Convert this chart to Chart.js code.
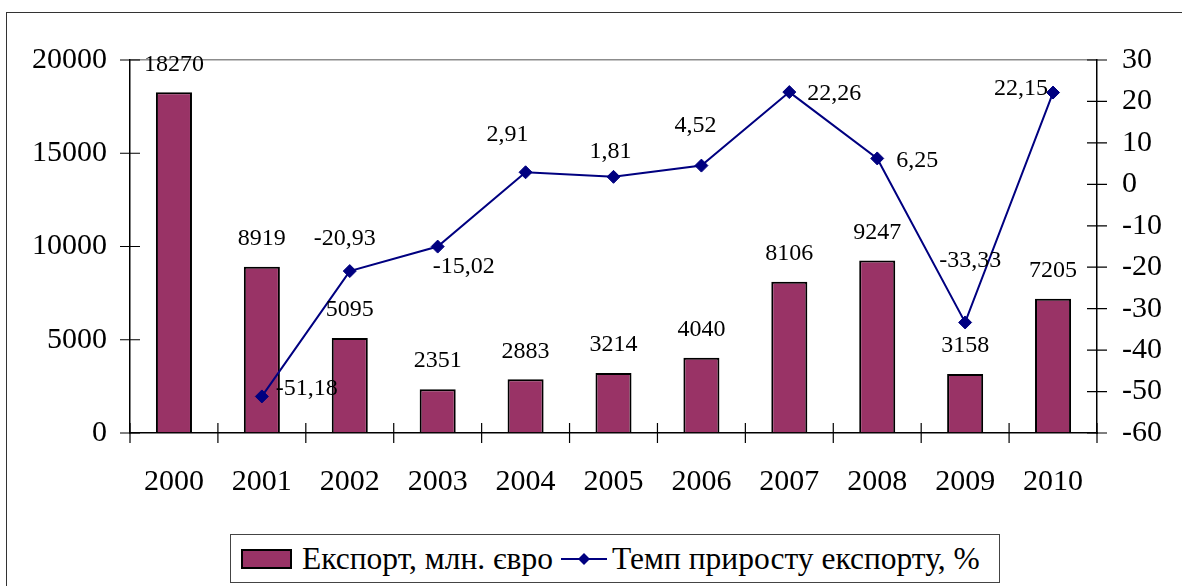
<!DOCTYPE html>
<html>
<head>
<meta charset="utf-8">
<script src="https://cdn.jsdelivr.net/npm/chart.js@4.4.1/dist/chart.umd.min.js"></script>
<style>
  html, body { margin: 0; padding: 0; background: #fff; width: 1182px; height: 586px; overflow: hidden; font-family: 'Liberation Serif', serif; }
  #frame { position: absolute; left: 6px; top: 12px; width: 1300px; height: 700px; border: 1.5px solid #333; box-sizing: border-box; }
  #wrap { position: absolute; left: 0; top: 0; width: 1182px; height: 586px; }
  #legend { position: absolute; left: 230px; top: 534px; width: 770px; height: 49px; border: 1px solid #444; box-sizing: border-box;
            display: flex; align-items: center; font-family: 'Liberation Serif', serif; font-size: 31.5px; color: #000; background: #fff; }
  .sw { width: 47px; height: 16px; background: #993366; border: 2px solid #000; margin-left: 10px; margin-right: 10px; }
  .ln { margin-left: 8px; margin-right: 5px; display: block; }
</style>
</head>
<body>
<div id="frame"></div>
<div id="wrap"><canvas id="c" width="1182" height="586"></canvas></div>
<div id="legend">
  <div class="sw"></div><span id="l1"></span>
  <svg class="ln" width="46" height="14" viewBox="0 0 46 14"><line x1="0" y1="7" x2="46" y2="7" stroke="#000080" stroke-width="2"/><polygon points="23,1 29,7 23,13 17,7" fill="#000080"/></svg>
  <span id="l2"></span>
</div>
<script>
const categories = ['2000','2001','2002','2003','2004','2005','2006','2007','2008','2009','2010'];
const exportValues = [18270, 8919, 5095, 2351, 2883, 3214, 4040, 8106, 9247, 3158, 7205];
const growthValues = [null, -51.18, -20.93, -15.02, 2.91, 1.81, 4.52, 22.26, 6.25, -33.33, 22.15];
const seriesNames = ['Експорт, млн. євро', 'Темп приросту експорту, %'];
const leftTicks = { min: 0, max: 20000, step: 5000 };
const rightTicks = { min: -60, max: 30, step: 10 };

// label placement for line points (style only): [dx, dy, align]
const lineLabelPlace = [
  null, [14, -8, 'left'], [-5, -32, 'center'], [-5, 20, 'left'], [-18, -38, 'center'], [-3, -25, 'center'],
  [-6, -40, 'center'], [18, 2, 'left'], [19, 2, 'left'], [5, -62, 'center'], [-5, -4, 'right']
];

document.getElementById('l1').textContent = seriesNames[0];
document.getElementById('l2').textContent = seriesNames[1];

const FONT = "'Liberation Serif', serif";

const labelsPlugin = {
  id: 'labels',
  afterDatasetsDraw(chart) {
    const ctx = chart.ctx;
    ctx.save();
    ctx.fillStyle = '#000';
    ctx.font = '24px ' + FONT;
    ctx.textBaseline = 'middle';
    const barMeta = chart.getDatasetMeta(0);
    barMeta.data.forEach((el, i) => {
      ctx.textAlign = 'center';
      ctx.fillText(String(exportValues[i]), el.x, el.y - 28);
    });
    const lineMeta = chart.getDatasetMeta(1);
    lineMeta.data.forEach((el, i) => {
      const v = growthValues[i];
      if (v === null || !lineLabelPlace[i]) return;
      const p = lineLabelPlace[i];
      ctx.textAlign = p[2];
      ctx.fillText(v.toFixed(2).replace('.', ','), el.x + p[0], el.y + p[1]);
    });
    ctx.restore();
  }
};

const ticksPlugin = {
  id: 'crossTicks',
  afterDraw(chart) {
    const ctx = chart.ctx;
    const a = chart.chartArea;
    const xs = chart.scales.x, yl = chart.scales.y, yr = chart.scales.y1;
    ctx.save();
    ctx.strokeStyle = '#000';
    ctx.lineWidth = 1.2;
    ctx.beginPath();
    const n = categories.length;
    const w = (xs.right - xs.left) / n;
    for (let k = 0; k <= n; k++) {
      const x = xs.left + k * w;
      ctx.moveTo(x, a.bottom - 10); ctx.lineTo(x, a.bottom + 10);
    }
    yl.ticks.forEach(t => {
      const y = yl.getPixelForValue(t.value);
      ctx.moveTo(a.left - 10, y); ctx.lineTo(a.left + 10, y);
    });
    yr.ticks.forEach(t => {
      const y = yr.getPixelForValue(t.value);
      ctx.moveTo(a.right - 10, y); ctx.lineTo(a.right + 10, y);
    });
    ctx.stroke();
    ctx.restore();
  }
};

function draw() {
  new Chart(document.getElementById('c'), {
    data: {
      labels: categories,
      datasets: [
        { type: 'bar', label: seriesNames[0], data: exportValues, yAxisID: 'y',
          backgroundColor: '#993366', borderColor: '#000', borderWidth: 2,
          barPercentage: 0.41, categoryPercentage: 1, order: 2 },
        { type: 'line', label: seriesNames[1], data: growthValues, yAxisID: 'y1',
          borderColor: '#000080', backgroundColor: '#000080', borderWidth: 2,
          pointStyle: 'rectRot', pointRadius: 6.5, pointBorderWidth: 1, pointBorderColor: '#000080',
          tension: 0, spanGaps: false, order: 1 }
      ]
    },
    options: {
      responsive: false,
      animation: false,
      devicePixelRatio: 1,
      font: { family: FONT },
      layout: { padding: { top: 60, left: 0, right: 0, bottom: 0 } },
      plugins: { legend: { display: false }, tooltip: { enabled: false } },
      scales: {
        x: {
          offset: true,
          grid: { display: false, drawTicks: false },
          border: { display: true, color: '#000', width: 1.5 },
          ticks: { color: '#000', font: { family: FONT, size: 30 }, padding: 31, maxRotation: 0, autoSkip: false },
          afterFit(s) { s.height = 153; }
        },
        y: {
          position: 'left',
          min: leftTicks.min, max: leftTicks.max,
          ticks: { stepSize: leftTicks.step, color: '#000', font: { family: FONT, size: 30 }, padding: 23,
                   callback: v => String(v) },
          grid: { drawTicks: false, lineWidth: 1.5, color: c => (c.tick && c.tick.value === leftTicks.max) ? '#8c8c8c' : 'rgba(0,0,0,0)' },
          border: { display: true, color: '#000', width: 1.5 },
          afterFit(s) { s.width = 130; }
        },
        y1: {
          position: 'right',
          min: rightTicks.min, max: rightTicks.max,
          ticks: { stepSize: rightTicks.step, color: '#000', font: { family: FONT, size: 30 }, padding: 25,
                   callback: v => String(v) },
          grid: { display: false, drawTicks: false },
          border: { display: true, color: '#000', width: 1.5 },
          afterFit(s) { s.width = 85; }
        }
      }
    },
    plugins: [labelsPlugin, ticksPlugin]
  });
}
Chart.defaults.font.family = FONT;
if (document.fonts && document.fonts.load) {
  Promise.all([document.fonts.load("30px 'Liberation Serif'"), document.fonts.ready]).then(draw, draw);
} else { draw(); }
</script>
</body>
</html>
